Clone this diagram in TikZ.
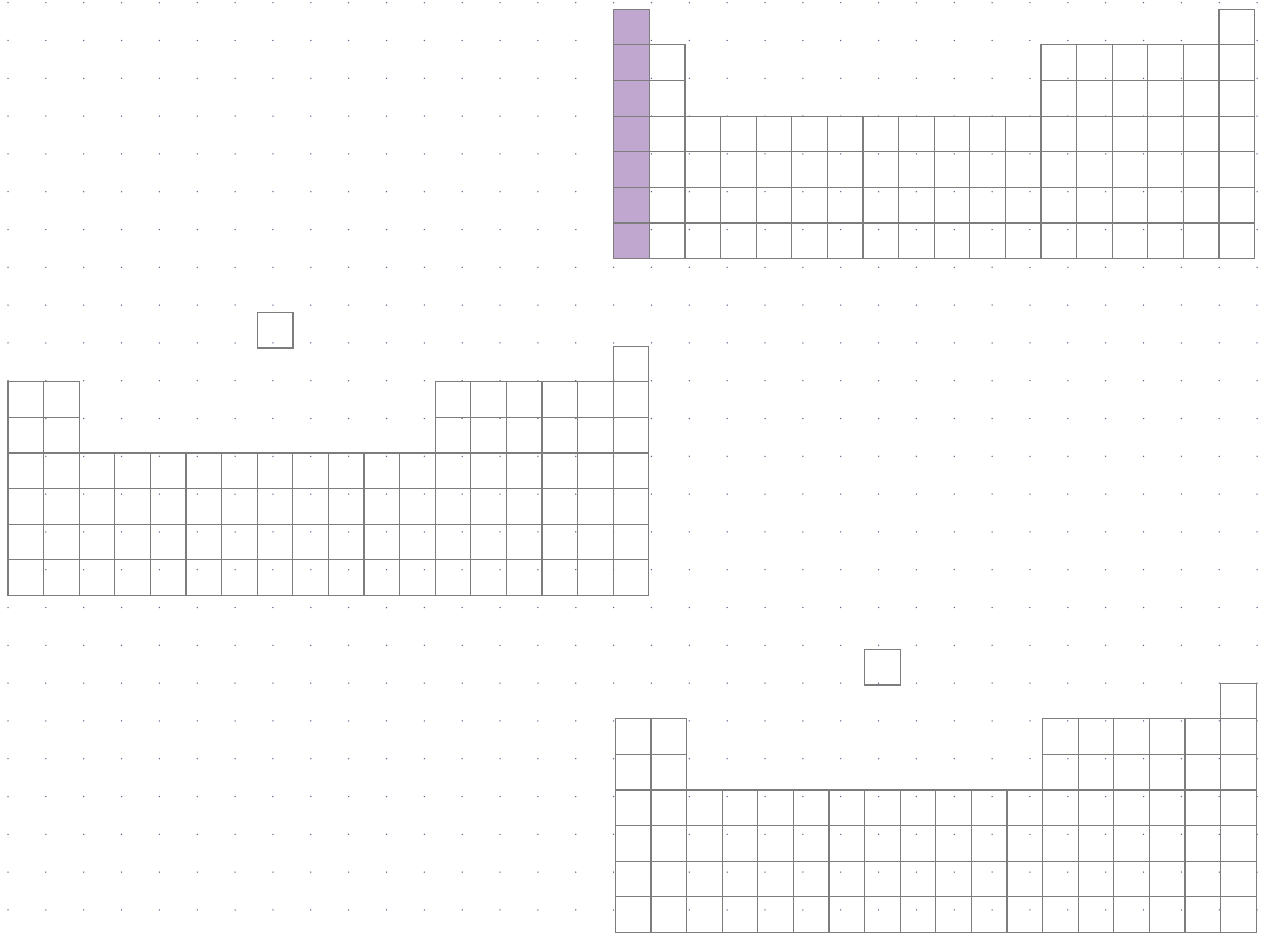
\documentclass[tikz,border=0pt]{standalone}
\definecolor{cellline}{RGB}{125,125,125}
\definecolor{dotc}{RGB}{95,95,140}
\definecolor{purp}{RGB}{191,167,207}
\tikzset{
  cell/.style={draw=cellline,line width=1.2pt},
  gdot/.style={fill=dotc},
  hl/.style={fill=purp}
}
\newcommand\ptab[3]{%
  \foreach \c in {1,...,18}{%
    \ifnum\c=1 \def\pstart{#3}\else\ifnum\c=2 \def\pstart{2}\else\ifnum\c<13 \def\pstart{4}\else\ifnum\c<18 \def\pstart{2}\else\def\pstart{1}\fi\fi\fi\fi
    \foreach \p in {\pstart,...,7}{%
      \draw[cell] ({#1+(\c-1)*35.6},{#2+(\p-1)*35.6}) rectangle ++(35.6,35.6);
    }%
  }%
}
\begin{document}
\begin{tikzpicture}[x=1pt,y=-1pt]
\useasboundingbox (0,0) rectangle (1264,934);
% dot grid
\foreach \i in {0,...,33}{
  \foreach \j in {0,...,24}{
    \fill[gdot] ({8+37.85*\i},{2.7+37.8*\j}) circle (0.75pt);
  }
}
% top table
\fill[hl] (613.7,9.3) rectangle ++(35.6,249.2);
\ptab{613.7}{9.3}{1}
% middle table
\ptab{8}{346.1}{2}
\draw[cell] (257.3,312.3) rectangle ++(35.6,35.6);
% bottom table
\ptab{615.3}{683.1}{2}
\draw[cell] (864.5,649.3) rectangle ++(35.6,35.6);
\end{tikzpicture}
\end{document}
